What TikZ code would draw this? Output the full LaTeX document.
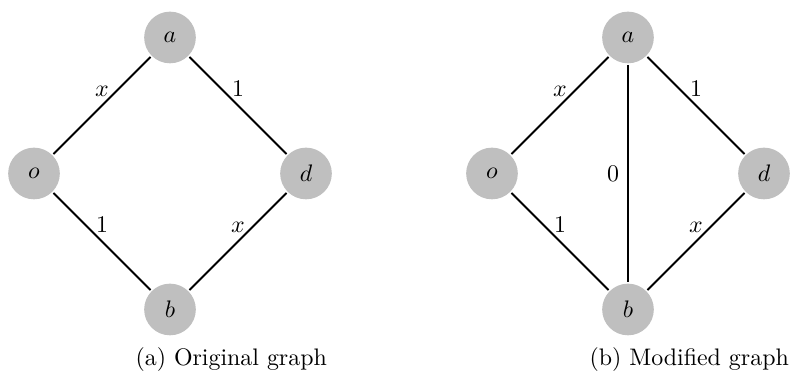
\documentclass[tikz,border=0pt]{standalone}
\begin{document}
\begin{tikzpicture}[
  vertex/.style={circle, fill=gray!50, minimum size=0.76cm, inner sep=0pt, outer sep=0.7pt},
  edge/.style={thick, black},
  caption/.style={anchor=base, inner sep=0pt}
]
\useasboundingbox (-2.5,-2.978) rectangle (9.191,2.551);
% left graph
\node[vertex] (a1) at (0,2) {$a$};
\node[vertex] (o1) at (-2,0) {$o$};
\node[vertex] (d1) at (2,0) {$d$};
\node[vertex] (b1) at (0,-2) {$b$};
\draw[edge] (o1) -- node[above] {$x$} (a1);
\draw[edge] (a1) -- node[above] {$1$} (d1);
\draw[edge] (o1) -- node[above] {$1$} (b1);
\draw[edge] (b1) -- node[above] {$x$} (d1);
\node[caption] (c1) at (0.9,-2.82) {(a) Original graph};
% right graph
\begin{scope}[xshift=6.735cm]
\node[vertex] (a2) at (0,2) {$a$};
\node[vertex] (o2) at (-2,0) {$o$};
\node[vertex] (d2) at (2,0) {$d$};
\node[vertex] (b2) at (0,-2) {$b$};
\draw[edge] (o2) -- node[above] {$x$} (a2);
\draw[edge] (a2) -- node[above] {$1$} (d2);
\draw[edge] (o2) -- node[above] {$1$} (b2);
\draw[edge] (b2) -- node[above] {$x$} (d2);
\draw[edge] (a2) -- node[left] {$0$} (b2);
\node[caption] (c2) at (0.9,-2.82) {(b) Modified graph};
\end{scope}
\end{tikzpicture}
\end{document}
